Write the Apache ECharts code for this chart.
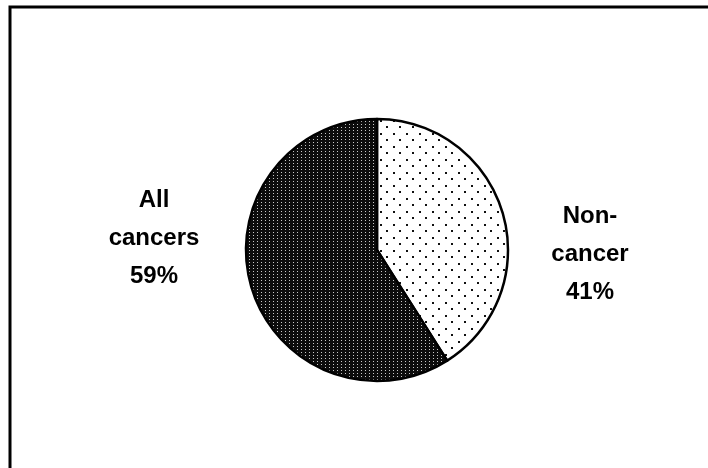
<!DOCTYPE html>
<html>
<head>
<meta charset="utf-8">
<script src="https://cdn.jsdelivr.net/npm/echarts@6/dist/echarts.min.js"></script>
<style>
  html, body { margin: 0; padding: 0; background: #fff; }
  #chart { width: 708px; height: 468px; }
</style>
</head>
<body>
<div id="chart"></div>
<script>
// Share of deaths by cause group
const categories = ['Non-\ncancer', 'All\ncancers'];
const shares = [41, 59];

// Fine stipple on a near-black ground
function darkStipple() {
  const c = document.createElement('canvas');
  c.width = 4; c.height = 3;
  const g = c.getContext('2d');
  g.fillStyle = '#0c0c0c';
  g.fillRect(0, 0, 4, 3);
  g.fillStyle = '#c8c8c8';
  g.fillRect(1, 1, 1, 1);
  return c;
}

// Sparse staggered dots on white
function lightDots() {
  const c = document.createElement('canvas');
  c.width = 13; c.height = 13;
  const g = c.getContext('2d');
  g.fillStyle = '#ffffff';
  g.fillRect(0, 0, 13, 13);
  g.fillStyle = '#111111';
  g.fillRect(3, 3, 2, 2);
  g.fillRect(9, 9, 2, 2);
  return c;
}

const fills = [
  { image: lightDots(), repeat: 'repeat' },
  { image: darkStipple(), repeat: 'repeat' }
];

const labelSpots = [
  { x: 590, y: 254 },
  { x: 154, y: 238 }
];

const chart = echarts.init(document.getElementById('chart'), null, { renderer: 'canvas' });
chart.setOption({
  backgroundColor: '#ffffff',
  animation: false,
  graphic: [{
    type: 'rect',
    shape: { x: 10, y: 7, width: 760, height: 520 },
    style: { fill: 'none', stroke: '#000', lineWidth: 3 },
    silent: true
  }],
  series: [{
    type: 'pie',
    center: [377, 250],
    radius: 131,
    startAngle: 90,
    clockwise: true,
    itemStyle: { borderColor: '#000', borderWidth: 2.5 },
    label: {
      show: true,
      position: 'outside',
      formatter: p => p.name + '\n' + p.value + '%',
      fontFamily: 'Liberation Sans, Arial, sans-serif',
      fontWeight: 'bold',
      fontSize: 24,
      lineHeight: 38,
      color: '#000',
      align: 'center'
    },
    labelLine: { show: false },
    labelLayout: p => ({
      x: labelSpots[p.dataIndex].x,
      y: labelSpots[p.dataIndex].y,
      align: 'center',
      verticalAlign: 'middle'
    }),
    emphasis: { disabled: true },
    data: categories.map((name, i) => ({
      name: name,
      value: shares[i],
      itemStyle: { color: fills[i] }
    }))
  }]
});
</script>
</body>
</html>
